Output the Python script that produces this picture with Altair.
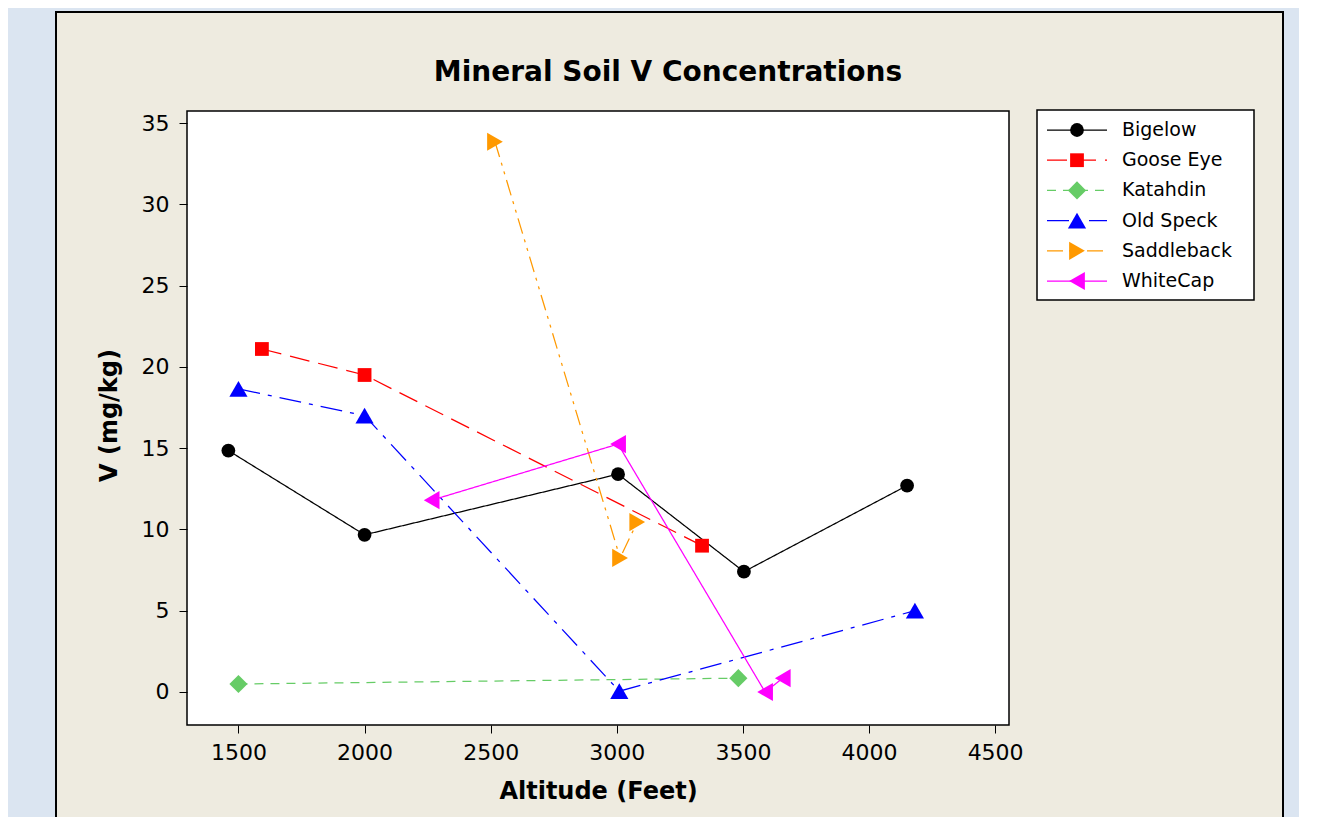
import altair as alt
import pandas as pd

# ---- data ----
series_names = ["Bigelow", "Goose Eye", "Katahdin", "Old Speck", "Saddleback", "WhiteCap"]
series_colors = ["#000000", "#ff0000", "#66cc66", "#0000ff", "#ff9900", "#ff00ff"]
series_shapes = ["circle", "square", "diamond", "triangle-up", "triangle-right", "triangle-left"]
series_dashes = [[1, 0], [20, 9], [9, 7], [22, 8, 4, 8], [16, 6, 3, 6, 3, 6], [1, 0]]
small_marker_series = ["Bigelow", "Goose Eye"]

bigelow_alt = [1460, 2000, 3005, 3504, 4151]
bigelow_v = [14.85, 9.67, 13.4, 7.4, 12.7]
goose_alt = [1593, 2000, 3338]
goose_v = [21.1, 19.5, 9.0]
katahdin_alt = [1500, 3482]
katahdin_v = [0.49, 0.85]
oldspeck_alt = [1500, 2000, 3010, 4182]
oldspeck_v = [18.65, 17.0, 0.05, 5.0]
saddleback_alt = [2517, 3013, 3081]
saddleback_v = [33.85, 8.25, 10.45]
whitecap_alt = [2266, 3005, 3588, 3658]
whitecap_v = [11.8, 15.25, 0.0, 0.85]

x_ticks = [1500, 2000, 2500, 3000, 3500, 4000, 4500]
y_ticks = [0, 5, 10, 15, 20, 25, 30, 35]
title_text = "Mineral Soil V Concentrations"
x_title = "Altitude (Feet)"
y_title = "V (mg/kg)"

# ---- tables ----
rows = []
for name, alts, vals in [
    ("Bigelow", bigelow_alt, bigelow_v),
    ("Goose Eye", goose_alt, goose_v),
    ("Katahdin", katahdin_alt, katahdin_v),
    ("Old Speck", oldspeck_alt, oldspeck_v),
    ("Saddleback", saddleback_alt, saddleback_v),
    ("WhiteCap", whitecap_alt, whitecap_v),
]:
    for a, v in zip(alts, vals):
        rows.append({"series": name, "altitude": a, "v": v})
df = pd.DataFrame(rows)

leg_line = pd.DataFrame(
    [{"series": s, "idx": i, "lx": lx} for i, s in enumerate(series_names) for lx in (0.0, 1.0)]
)
leg_pt = pd.DataFrame([{"series": s, "idx": i, "lx": 0.5} for i, s in enumerate(series_names)])
leg_txt = pd.DataFrame([{"series": s, "idx": i, "lx": 1.25} for i, s in enumerate(series_names)])
one = pd.DataFrame({"t": [title_text]})

FONT = "DejaVu Sans"
W, H = 822, 614
SMALL, BIG = 190, 330

color = alt.Color("series:N", scale=alt.Scale(domain=series_names, range=series_colors), legend=None)
dash = alt.StrokeDash("series:N", scale=alt.Scale(domain=series_names, range=series_dashes), legend=None)
shape = alt.Shape("series:N", scale=alt.Scale(domain=series_names, range=series_shapes), legend=None)

xscale = alt.Scale(domain=[1296, 4555], nice=False, zero=False)
yscale = alt.Scale(domain=[-2.03, 35.74], nice=False, zero=False)
is_small = alt.FieldOneOfPredicate(field="series", oneOf=small_marker_series)
is_big = {"not": is_small}

# decorative panel and plot frame
panel = alt.Chart(one).mark_rect(fill="#eeebe0", stroke="black", strokeWidth=2).encode(
    x=alt.value(-131), x2=alt.value(1096), y=alt.value(-99), y2=alt.value(740)
)
frame = alt.Chart(one).mark_rect(fill="white", stroke="black", strokeWidth=1.5).encode(
    x=alt.value(0), x2=alt.value(W), y=alt.value(0), y2=alt.value(H)
)

lines = alt.Chart(df).mark_line(strokeWidth=1.25).encode(
    x=alt.X(
        "altitude:Q",
        scale=xscale,
        axis=alt.Axis(
            values=x_ticks, title=x_title, grid=False, domain=False, tickSize=8,
            tickColor="black", labelPadding=9, zindex=1, titleY=54, format="d",
        ),
    ),
    y=alt.Y(
        "v:Q",
        scale=yscale,
        axis=alt.Axis(
            values=y_ticks, title=y_title, grid=False, domain=False, tickSize=8,
            tickColor="black", labelPadding=10, zindex=1, titleX=-66, titleY=304,
        ),
    ),
    color=color,
    strokeDash=dash,
    detail="series:N",
)


def marker_layer(data, xfield, yfield, xs, ys, pred, msize):
    return (
        alt.Chart(data)
        .transform_filter(pred)
        .mark_point(filled=True, opacity=1, strokeWidth=0, size=msize)
        .encode(
            x=alt.X(xfield, scale=xs, axis=None),
            y=alt.Y(yfield, scale=ys, axis=None),
            color=color,
            shape=shape,
        )
    )


points_small = marker_layer(df, "altitude:Q", "v:Q", xscale, yscale, is_small, SMALL)
points_big = marker_layer(df, "altitude:Q", "v:Q", xscale, yscale, is_big, BIG)

# legend built from the series list through its own scales
leg_box = alt.Chart(one).mark_rect(fill="white", stroke="black", strokeWidth=1.5).encode(
    x=alt.value(850), x2=alt.value(1067), y=alt.value(-1), y2=alt.value(189)
)
lx_scale = alt.Scale(domain=[0, 1.25], range=[860, 935], nice=False, zero=False)
ly_scale = alt.Scale(domain=[0, 5], range=[19, 170], nice=False, zero=False)

leg_lines = alt.Chart(leg_line).mark_line(strokeWidth=1.25).encode(
    x=alt.X("lx:Q", scale=lx_scale, axis=None),
    y=alt.Y("idx:Q", scale=ly_scale, axis=None),
    color=color,
    strokeDash=dash,
    detail="series:N",
)
leg_points_small = marker_layer(leg_pt, "lx:Q", "idx:Q", lx_scale, ly_scale, is_small, SMALL)
leg_points_big = marker_layer(leg_pt, "lx:Q", "idx:Q", lx_scale, ly_scale, is_big, BIG)
leg_text = alt.Chart(leg_txt).mark_text(
    align="left", baseline="middle", font=FONT, fontSize=19, color="black"
).encode(
    x=alt.X("lx:Q", scale=lx_scale, axis=None),
    y=alt.Y("idx:Q", scale=ly_scale, axis=None),
    text="series:N",
)

title = alt.Chart(one).mark_text(
    align="center", baseline="alphabetic", font=FONT, fontSize=28, fontWeight="bold", color="black"
).encode(x=alt.value(481), y=alt.value(-30), text="t:N")

chart = (
    alt.layer(
        panel, frame, lines, points_small, points_big,
        leg_box, leg_lines, leg_points_small, leg_points_big, leg_text, title,
    )
    .resolve_scale(x="independent", y="independent")
    .properties(
        width=W,
        height=H,
        autosize=alt.AutoSizeParams(type="none"),
        padding={"left": 179, "top": 103, "right": 290, "bottom": 92},
        background="#dbe5f1",
    )
    .configure_view(stroke=None)
    .configure_axis(
        labelFont=FONT, labelFontSize=22, labelColor="black",
        titleFont=FONT, titleFontSize=24, titleFontWeight="bold", titleColor="black",
    )
)

chart.save("out.html", embed_options={"renderer": "svg", "actions": False})
